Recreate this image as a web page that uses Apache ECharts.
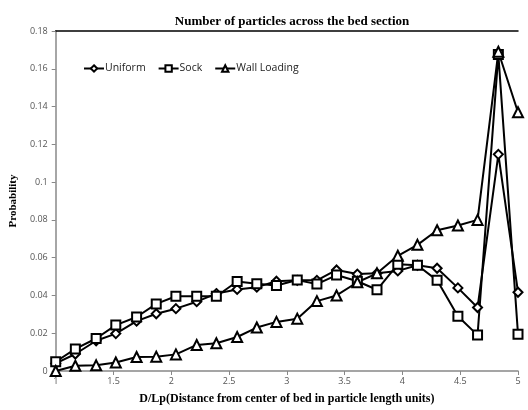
<!DOCTYPE html>
<html><head><meta charset="utf-8">
<script src="https://cdn.jsdelivr.net/npm/echarts@6/dist/echarts.min.js"></script>
<style>html,body{margin:0;padding:0;background:#fff}#c{width:528px;height:410px}</style>
</head><body><div id="c"></div>
<script>
const xValues = [1, 1.17, 1.35, 1.52, 1.7, 1.87, 2.04, 2.22, 2.39, 2.57, 2.74, 2.91, 3.09, 3.26, 3.43, 3.61, 3.78, 3.96, 4.13, 4.3, 4.48, 4.65, 4.83, 5];
const uniform = [0.004, 0.009, 0.016, 0.0198, 0.0264, 0.0303, 0.033, 0.0367, 0.041, 0.0432, 0.0444, 0.0475, 0.048, 0.048, 0.0535, 0.0513, 0.0517, 0.053, 0.056, 0.0544, 0.044, 0.0336, 0.1147, 0.0417];
const sock = [0.0049, 0.0117, 0.0172, 0.0243, 0.0286, 0.0355, 0.0396, 0.0396, 0.0396, 0.0474, 0.0462, 0.0453, 0.0482, 0.046, 0.0508, 0.0475, 0.043, 0.0565, 0.056, 0.048, 0.029, 0.019, 0.1675, 0.0195];
const wall = [0, 0.0028, 0.003, 0.0045, 0.0074, 0.0076, 0.0088, 0.0138, 0.0147, 0.018, 0.023, 0.026, 0.0277, 0.037, 0.040, 0.047, 0.0517, 0.061, 0.0668, 0.0745, 0.077, 0.080, 0.169, 0.137];
const seriesNames = ['Uniform', 'Sock', 'Wall Loading'];
const yTicks = ['0', '0.02', '0.04', '0.06', '0.08', '0.1', '0.12', '0.14', '0.16', '0.18'];

function pairs(ys){ return xValues.map((x,i)=>[x, ys[i]]); }
const mk = (name, ys, symbol, size) => ({
  name, type:'line', data: pairs(ys), symbol, symbolSize: size,
  lineStyle:{color:'#000', width:2},
  itemStyle:{color:'#fff', borderColor:'#000', borderWidth:2},
  emphasis:{disabled:true}, animation:false, z: 3
});

const chart = echarts.init(document.getElementById('c'));
chart.setOption({
  animation:false,
  title:{text:'Number of particles across the bed section', left:287, top:10, textAlign:'center',
    textStyle:{fontFamily:'Liberation Serif', fontWeight:'bold', fontSize:13, color:'#000'}},
  legend:{left:78, top:58, itemWidth:20, itemHeight:8, itemGap:12,
    textStyle:{fontFamily:'Open Sans', fontSize:10.5, color:'#222', padding:[0,0,0,-4]},
    data: seriesNames},
  grid:{left:49, right:10, top:31, bottom:31, containLabel:false},
  xAxis:[{type:'value', min:1, max:5, interval:0.5,
    axisLine:{lineStyle:{color:'#888', width:1.5}},
    axisTick:{show:true, length:4, lineStyle:{color:'#888'}},
    axisLabel:{color:'#555', fontSize:9, fontFamily:'Open Sans', margin:6, showMinLabel:true, showMaxLabel:true},
    splitLine:{show:false},
    name:'D/Lp(Distance from center of bed in particle length units)', nameLocation:'middle', nameGap:22,
    nameTextStyle:{fontFamily:'Liberation Serif', fontWeight:'bold', fontSize:12, color:'#000'}},
   {type:'value', position:'top', min:1, max:5, axisLine:{show:true, lineStyle:{color:'#000', width:1.5}},
    axisTick:{show:false}, axisLabel:{show:false}, splitLine:{show:false}}],
  yAxis:{type:'value', min:0, max:0.18, interval:0.02,
    axisLine:{show:true, lineStyle:{color:'#888', width:1.5}},
    axisTick:{show:true, length:4, lineStyle:{color:'#888'}},
    axisLabel:{color:'#555', fontSize:9, fontFamily:'Open Sans', margin:8,
      formatter:(v)=>yTicks[Math.round(v/0.02)]},
    splitLine:{show:false},
    name:'Probability', nameLocation:'middle', nameGap:33,
    nameTextStyle:{fontFamily:'Liberation Serif', fontWeight:'bold', fontSize:11, color:'#000'}},
  series:[
    mk(seriesNames[0], uniform, 'diamond', 9),
    mk(seriesNames[1], sock, 'rect', 9),
    mk(seriesNames[2], wall, 'triangle', 10)
  ]
});
</script></body></html>
